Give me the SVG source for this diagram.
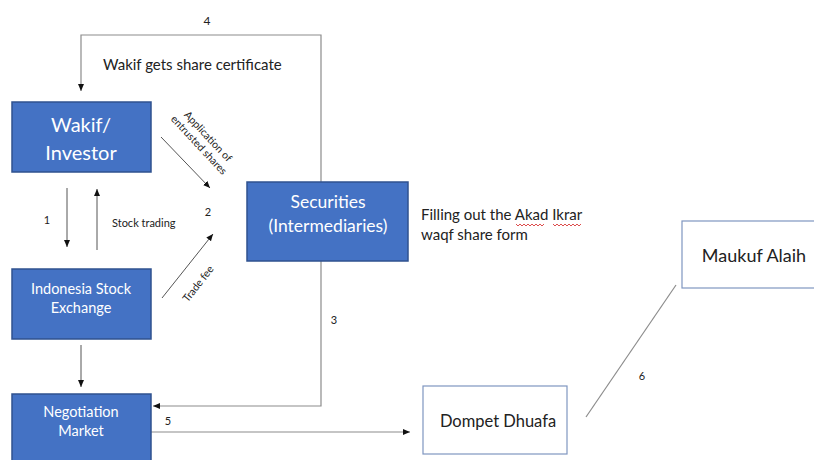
<svg xmlns="http://www.w3.org/2000/svg" width="814" height="460" viewBox="0 0 814 460">
<style>
text{font-family:Lato,"Open Sans","Liberation Sans",sans-serif;}
.box{fill:#4472C4;stroke:#2F528F;stroke-width:1.5;}
.wbox{fill:#ffffff;stroke:#7F96C0;stroke-width:1.2;}
.wt{fill:#ffffff;text-anchor:middle;}
.bt{fill:#222222;}
.ln{fill:none;stroke:#8c8c8c;stroke-width:1.2;}
.lk{fill:none;stroke:#555555;stroke-width:1;}
</style>
<defs>
<marker id="ah" markerWidth="8" markerHeight="8" refX="7" refY="4" orient="auto" markerUnits="userSpaceOnUse">
<path d="M0,1 L7,4 L0,7 Z" fill="#111111"/>
</marker>
</defs>
<rect width="814" height="460" fill="#ffffff"/>
<g id="connectors">
<polyline class="ln" points="321,182 321,35 81,35 81,91" marker-end="url(#ah)"/>
<line class="lk" x1="67" y1="188" x2="67" y2="247" marker-end="url(#ah)"/>
<line class="lk" x1="97" y1="250" x2="97" y2="189" marker-end="url(#ah)"/>
<line class="lk" x1="161" y1="137" x2="210" y2="188" marker-end="url(#ah)"/>
<line class="lk" x1="162" y1="298" x2="213" y2="234" marker-end="url(#ah)"/>
<line class="lk" x1="81" y1="345" x2="81" y2="387" marker-end="url(#ah)"/>
<polyline class="ln" points="321,261 321,406 153,406" marker-end="url(#ah)"/>
<line class="ln" x1="151" y1="432" x2="410" y2="432" marker-end="url(#ah)"/>
<line class="ln" x1="586" y1="417" x2="676" y2="285"/>
<text class="bt" x="207" y="25" font-size="12" text-anchor="middle">4</text>
<text class="bt" x="103" y="70" font-size="15">Wakif gets share certificate</text>
<text class="bt" x="47" y="224" font-size="11" text-anchor="middle">1</text>
<text class="bt" x="112" y="227" font-size="11">Stock trading</text>
<text class="bt" x="208" y="216" font-size="11" text-anchor="middle">2</text>
<text class="bt" font-size="10.5" text-anchor="middle" transform="translate(201,143) rotate(47)"><tspan x="0" y="-6">Application of</tspan><tspan x="0" y="6.5">entrusted shares</tspan></text>
<text class="bt" font-size="10.5" text-anchor="middle" transform="translate(201,286) rotate(-52)">Trade fee</text>
<text class="bt" x="334" y="324" font-size="11" text-anchor="middle">3</text>
<text class="bt" x="168" y="425" font-size="11" text-anchor="middle">5</text>
<text class="bt" x="642" y="380" font-size="11" text-anchor="middle">6</text>
</g>
<g id="wakif">
<rect class="box" x="12" y="102" width="139" height="70"/>
<text class="wt" x="81" y="132" font-size="20">Wakif/</text>
<text class="wt" x="81" y="160" font-size="20">Investor</text>
</g>
<g id="idx">
<rect class="box" x="12" y="269" width="139" height="70"/>
<text class="wt" x="81" y="294" font-size="14.5">Indonesia Stock</text>
<text class="wt" x="81" y="313" font-size="14.5">Exchange</text>
</g>
<g id="negotiation">
<rect class="box" x="12" y="394" width="139" height="80"/>
<text class="wt" x="81" y="417" font-size="14.5">Negotiation</text>
<text class="wt" x="81" y="436" font-size="14.5">Market</text>
</g>
<g id="securities">
<rect class="box" x="247" y="182" width="161" height="79"/>
<text class="wt" x="328" y="208" font-size="17.5">Securities</text>
<text class="wt" x="328" y="232" font-size="17.5">(Intermediaries)</text>
</g>
<g id="form-note">
<text class="bt" x="421" y="220" font-size="15">Filling out the Akad Ikrar</text>
<text class="bt" x="421" y="240" font-size="15">waqf share form</text>
<path d="M516,224 l2,2 l2,-2 l2,2 l2,-2 l2,2 l2,-2 l2,2 l2,-2 l2,2 l2,-2 l2,2 l2,-2 l2,2 l2,-2 M553,224 l2,2 l2,-2 l2,2 l2,-2 l2,2 l2,-2 l2,2 l2,-2 l2,2 l2,-2 l2,2 l2,-2 l2,2 l2,-2" fill="none" stroke="#d42020" stroke-width="0.8"/>
</g>
<g id="dompet">
<rect class="wbox" x="423" y="386" width="144" height="68"/>
<text class="bt" x="498" y="427" font-size="16.5" text-anchor="middle">Dompet Dhuafa</text>
</g>
<g id="maukuf">
<rect class="wbox" x="682" y="221" width="140" height="67"/>
<text class="bt" x="754" y="262" font-size="18" text-anchor="middle">Maukuf Alaih</text>
</g>
</svg>
